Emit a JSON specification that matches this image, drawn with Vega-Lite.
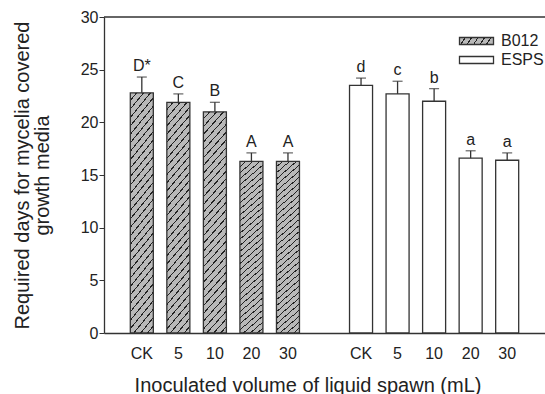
{
  "$schema": "https://vega.github.io/schema/vega-lite/v6.json",
  "width": 441,
  "height": 316,
  "autosize": "none",
  "padding": {"left": 104, "top": 17, "right": 0, "bottom": 61},
  "config": {
    "view": {"stroke": null},
    "font": "Liberation Sans",
    "axis": {"grid": false, "domainColor": "#333333", "domainWidth": 1.3, "tickColor": "#333333", "labelColor": "#222222", "titleColor": "#222222", "labelFontSize": 16, "titleFontSize": 20, "titleFontWeight": "normal"}
  },
  "data": {
    "values": [
      {"strain": "B012", "volume": "CK", "key": "B012 CK", "days": 22.8, "upper": 24.3, "letter": "D*"},
      {"strain": "B012", "volume": "5", "key": "B012 5", "days": 21.9, "upper": 22.7, "letter": "C"},
      {"strain": "B012", "volume": "10", "key": "B012 10", "days": 21.0, "upper": 21.9, "letter": "B"},
      {"strain": "B012", "volume": "20", "key": "B012 20", "days": 16.3, "upper": 17.1, "letter": "A"},
      {"strain": "B012", "volume": "30", "key": "B012 30", "days": 16.3, "upper": 17.1, "letter": "A"},
      {"strain": "ESPS", "volume": "CK", "key": "ESPS CK", "days": 23.5, "upper": 24.2, "letter": "d"},
      {"strain": "ESPS", "volume": "5", "key": "ESPS 5", "days": 22.7, "upper": 23.9, "letter": "c"},
      {"strain": "ESPS", "volume": "10", "key": "ESPS 10", "days": 22.0, "upper": 23.2, "letter": "b"},
      {"strain": "ESPS", "volume": "20", "key": "ESPS 20", "days": 16.6, "upper": 17.3, "letter": "a"},
      {"strain": "ESPS", "volume": "30", "key": "ESPS 30", "days": 16.4, "upper": 17.1, "letter": "a"}
    ]
  },
  "layer": [
    {
      "mark": {"type": "bar", "stroke": "#333333", "strokeWidth": 1.3},
      "encoding": {
        "x": {
          "field": "key", "type": "nominal",
          "scale": {"domain": ["B012 CK", "B012 5", "B012 10", "B012 20", "B012 30", "gap", "ESPS CK", "ESPS 5", "ESPS 10", "ESPS 20", "ESPS 30"], "paddingInner": 0.37, "paddingOuter": 0.72},
          "title": "Inoculated volume of liquid spawn (mL)",
          "axis": {"labelAngle": 0, "ticks": false, "tickSize": 0, "labelPadding": 25, "labelBaseline": "alphabetic", "labelExpr": "datum.value == 'gap' ? '' : split(datum.value, ' ')[1]", "titleX": 203.5, "titleY": 58, "titleBaseline": "alphabetic", "titleAnchor": "middle", "titleAlign": "center"}
        },
        "y": {
          "field": "days", "type": "quantitative",
          "scale": {"domain": [0, 30]},
          "title": ["Required days for mycelia covered", "growth media"],
          "axis": {"values": [0, 5, 10, 15, 20, 25, 30], "tickSize": 5, "labelPadding": 1, "titlePadding": 28, "titleLineHeight": 20}
        },
        "fill": {
          "condition": {"test": "datum.strain === 'B012'", "value": {"gradient": "linear", "x1": 0, "y1": 0, "x2": 0.13, "y2": 1.111, "stops": [
              {"offset": 0, "color": "#b9b9b9"}, {"offset": 0.0255, "color": "#b9b9b9"}, {"offset": 0.0255, "color": "#222222"}, {"offset": 0.03125, "color": "#222222"},
              {"offset": 0.03125, "color": "#b9b9b9"}, {"offset": 0.05675, "color": "#b9b9b9"}, {"offset": 0.05675, "color": "#222222"}, {"offset": 0.0625, "color": "#222222"},
              {"offset": 0.0625, "color": "#b9b9b9"}, {"offset": 0.088, "color": "#b9b9b9"}, {"offset": 0.088, "color": "#222222"}, {"offset": 0.09375, "color": "#222222"},
              {"offset": 0.09375, "color": "#b9b9b9"}, {"offset": 0.11925, "color": "#b9b9b9"}, {"offset": 0.11925, "color": "#222222"}, {"offset": 0.125, "color": "#222222"},
              {"offset": 0.125, "color": "#b9b9b9"}, {"offset": 0.1505, "color": "#b9b9b9"}, {"offset": 0.1505, "color": "#222222"}, {"offset": 0.15625, "color": "#222222"},
              {"offset": 0.15625, "color": "#b9b9b9"}, {"offset": 0.18175, "color": "#b9b9b9"}, {"offset": 0.18175, "color": "#222222"}, {"offset": 0.1875, "color": "#222222"},
              {"offset": 0.1875, "color": "#b9b9b9"}, {"offset": 0.213, "color": "#b9b9b9"}, {"offset": 0.213, "color": "#222222"}, {"offset": 0.21875, "color": "#222222"},
              {"offset": 0.21875, "color": "#b9b9b9"}, {"offset": 0.24425, "color": "#b9b9b9"}, {"offset": 0.24425, "color": "#222222"}, {"offset": 0.25, "color": "#222222"},
              {"offset": 0.25, "color": "#b9b9b9"}, {"offset": 0.2755, "color": "#b9b9b9"}, {"offset": 0.2755, "color": "#222222"}, {"offset": 0.28125, "color": "#222222"},
              {"offset": 0.28125, "color": "#b9b9b9"}, {"offset": 0.30675, "color": "#b9b9b9"}, {"offset": 0.30675, "color": "#222222"}, {"offset": 0.3125, "color": "#222222"},
              {"offset": 0.3125, "color": "#b9b9b9"}, {"offset": 0.338, "color": "#b9b9b9"}, {"offset": 0.338, "color": "#222222"}, {"offset": 0.34375, "color": "#222222"},
              {"offset": 0.34375, "color": "#b9b9b9"}, {"offset": 0.36925, "color": "#b9b9b9"}, {"offset": 0.36925, "color": "#222222"}, {"offset": 0.375, "color": "#222222"},
              {"offset": 0.375, "color": "#b9b9b9"}, {"offset": 0.4005, "color": "#b9b9b9"}, {"offset": 0.4005, "color": "#222222"}, {"offset": 0.40625, "color": "#222222"},
              {"offset": 0.40625, "color": "#b9b9b9"}, {"offset": 0.43175, "color": "#b9b9b9"}, {"offset": 0.43175, "color": "#222222"}, {"offset": 0.4375, "color": "#222222"},
              {"offset": 0.4375, "color": "#b9b9b9"}, {"offset": 0.463, "color": "#b9b9b9"}, {"offset": 0.463, "color": "#222222"}, {"offset": 0.46875, "color": "#222222"},
              {"offset": 0.46875, "color": "#b9b9b9"}, {"offset": 0.49425, "color": "#b9b9b9"}, {"offset": 0.49425, "color": "#222222"}, {"offset": 0.5, "color": "#222222"},
              {"offset": 0.5, "color": "#b9b9b9"}, {"offset": 0.5255, "color": "#b9b9b9"}, {"offset": 0.5255, "color": "#222222"}, {"offset": 0.53125, "color": "#222222"},
              {"offset": 0.53125, "color": "#b9b9b9"}, {"offset": 0.55675, "color": "#b9b9b9"}, {"offset": 0.55675, "color": "#222222"}, {"offset": 0.5625, "color": "#222222"},
              {"offset": 0.5625, "color": "#b9b9b9"}, {"offset": 0.588, "color": "#b9b9b9"}, {"offset": 0.588, "color": "#222222"}, {"offset": 0.59375, "color": "#222222"},
              {"offset": 0.59375, "color": "#b9b9b9"}, {"offset": 0.61925, "color": "#b9b9b9"}, {"offset": 0.61925, "color": "#222222"}, {"offset": 0.625, "color": "#222222"},
              {"offset": 0.625, "color": "#b9b9b9"}, {"offset": 0.6505, "color": "#b9b9b9"}, {"offset": 0.6505, "color": "#222222"}, {"offset": 0.65625, "color": "#222222"},
              {"offset": 0.65625, "color": "#b9b9b9"}, {"offset": 0.68175, "color": "#b9b9b9"}, {"offset": 0.68175, "color": "#222222"}, {"offset": 0.6875, "color": "#222222"},
              {"offset": 0.6875, "color": "#b9b9b9"}, {"offset": 0.713, "color": "#b9b9b9"}, {"offset": 0.713, "color": "#222222"}, {"offset": 0.71875, "color": "#222222"},
              {"offset": 0.71875, "color": "#b9b9b9"}, {"offset": 0.74425, "color": "#b9b9b9"}, {"offset": 0.74425, "color": "#222222"}, {"offset": 0.75, "color": "#222222"},
              {"offset": 0.75, "color": "#b9b9b9"}, {"offset": 0.7755, "color": "#b9b9b9"}, {"offset": 0.7755, "color": "#222222"}, {"offset": 0.78125, "color": "#222222"},
              {"offset": 0.78125, "color": "#b9b9b9"}, {"offset": 0.80675, "color": "#b9b9b9"}, {"offset": 0.80675, "color": "#222222"}, {"offset": 0.8125, "color": "#222222"},
              {"offset": 0.8125, "color": "#b9b9b9"}, {"offset": 0.838, "color": "#b9b9b9"}, {"offset": 0.838, "color": "#222222"}, {"offset": 0.84375, "color": "#222222"},
              {"offset": 0.84375, "color": "#b9b9b9"}, {"offset": 0.86925, "color": "#b9b9b9"}, {"offset": 0.86925, "color": "#222222"}, {"offset": 0.875, "color": "#222222"},
              {"offset": 0.875, "color": "#b9b9b9"}, {"offset": 0.9005, "color": "#b9b9b9"}, {"offset": 0.9005, "color": "#222222"}, {"offset": 0.90625, "color": "#222222"},
              {"offset": 0.90625, "color": "#b9b9b9"}, {"offset": 0.93175, "color": "#b9b9b9"}, {"offset": 0.93175, "color": "#222222"}, {"offset": 0.9375, "color": "#222222"},
              {"offset": 0.9375, "color": "#b9b9b9"}, {"offset": 0.963, "color": "#b9b9b9"}, {"offset": 0.963, "color": "#222222"}, {"offset": 0.96875, "color": "#222222"},
              {"offset": 0.96875, "color": "#b9b9b9"}, {"offset": 0.99425, "color": "#b9b9b9"}, {"offset": 0.99425, "color": "#222222"}, {"offset": 1, "color": "#222222"}
            ]}},
          "value": "#ffffff"
        }
      }
    },
    {
      "mark": {"type": "bar", "opacity": 0, "stroke": "#333333"},
      "encoding": {
        "x": {"field": "key", "type": "nominal"},
        "y": {"field": "days", "type": "quantitative"},
        "fill": {
          "field": "strain", "type": "nominal",
          "scale": {"domain": ["B012", "ESPS"], "range": [
            {"expr": "{gradient: 'linear', x1: 0, y1: 0, x2: 1.115, y2: 0.153, stops: [{offset: 0, color: '#b9b9b9'}, {offset: 0.13333, color: '#b9b9b9'}, {offset: 0.13333, color: '#222222'}, {offset: 0.16667, color: '#222222'}, {offset: 0.16667, color: '#b9b9b9'}, {offset: 0.3, color: '#b9b9b9'}, {offset: 0.3, color: '#222222'}, {offset: 0.33333, color: '#222222'}, {offset: 0.33333, color: '#b9b9b9'}, {offset: 0.46667, color: '#b9b9b9'}, {offset: 0.46667, color: '#222222'}, {offset: 0.5, color: '#222222'}, {offset: 0.5, color: '#b9b9b9'}, {offset: 0.63333, color: '#b9b9b9'}, {offset: 0.63333, color: '#222222'}, {offset: 0.66667, color: '#222222'}, {offset: 0.66667, color: '#b9b9b9'}, {offset: 0.8, color: '#b9b9b9'}, {offset: 0.8, color: '#222222'}, {offset: 0.83333, color: '#222222'}, {offset: 0.83333, color: '#b9b9b9'}, {offset: 0.96667, color: '#b9b9b9'}, {offset: 0.96667, color: '#222222'}, {offset: 1, color: '#222222'}]}"},
            "#ffffff"
          ]},
          "legend": {
            "title": null, "orient": "none", "legendX": 364.5, "legendY": 16, "padding": 0,
            "symbolType": "M-4.86,-1H4.86V1H-4.86Z", "symbolSize": 49,
            "symbolStrokeColor": "#333333", "symbolStrokeWidth": 1.3, "symbolOpacity": 1,
            "labelFontSize": 16, "labelColor": "#222222", "labelOffset": 16.5, "rowPadding": 3
          }
        }
      }
    },
    {
      "mark": {"type": "rule", "color": "#333333", "strokeWidth": 1.3},
      "encoding": {
        "x": {"field": "key", "type": "nominal"},
        "y": {"field": "days", "type": "quantitative"},
        "y2": {"field": "upper"}
      }
    },
    {
      "mark": {"type": "tick", "color": "#333333", "thickness": 1.3, "size": 10, "orient": "horizontal"},
      "encoding": {
        "x": {"field": "key", "type": "nominal"},
        "y": {"field": "upper", "type": "quantitative"}
      }
    },
    {
      "mark": {"type": "text", "baseline": "alphabetic", "dy": -6, "fontSize": 16, "color": "#222222"},
      "encoding": {
        "x": {"field": "key", "type": "nominal"},
        "y": {"field": "upper", "type": "quantitative"},
        "text": {"field": "letter"}
      }
    },
    {
      "data": {"values": [{}]},
      "mark": {"type": "rule", "color": "#333333", "strokeWidth": 1.3},
      "encoding": {"y": {"datum": 30}}
    }
  ]
}
